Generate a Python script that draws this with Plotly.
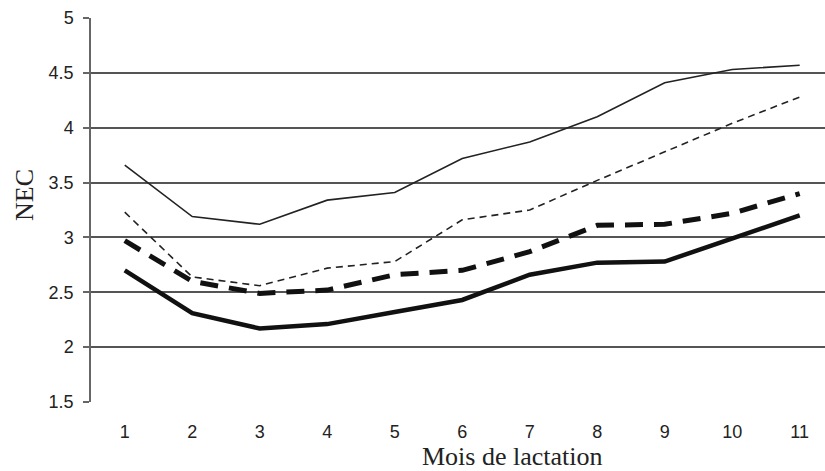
import plotly.graph_objects as go

months = [1, 2, 3, 4, 5, 6, 7, 8, 9, 10, 11]
serie_fine_pleine = [3.66, 3.19, 3.12, 3.34, 3.41, 3.72, 3.87, 4.10, 4.41, 4.53, 4.57]
serie_fine_tirets = [3.23, 2.64, 2.56, 2.72, 2.78, 3.16, 3.25, 3.52, 3.78, 4.04, 4.28]
serie_epaisse_tirets = [2.97, 2.60, 2.49, 2.52, 2.66, 2.70, 2.87, 3.11, 3.12, 3.22, 3.40]
serie_epaisse_pleine = [2.70, 2.31, 2.17, 2.21, 2.32, 2.43, 2.66, 2.77, 2.78, 2.99, 3.20]
y_ticks = [1.5, 2, 2.5, 3, 3.5, 4, 4.5, 5]
y_tick_labels = ["1.5", "2", "2.5", "3", "3.5", "4", "4.5", "5"]

fig = go.Figure()
fig.add_trace(go.Scatter(x=months, y=serie_fine_pleine, mode="lines",
                         line=dict(color="#222", width=1.6)))
fig.add_trace(go.Scatter(x=months, y=serie_fine_tirets, mode="lines",
                         line=dict(color="#222", width=1.6, dash="7px,5px")))
fig.add_trace(go.Scatter(x=months, y=serie_epaisse_tirets, mode="lines",
                         line=dict(color="#111", width=5, dash="18px,11px")))
fig.add_trace(go.Scatter(x=months, y=serie_epaisse_pleine, mode="lines",
                         line=dict(color="#111", width=4.5)))

fig.update_layout(
    width=825, height=471,
    margin=dict(l=91, r=0, t=18, b=69),
    paper_bgcolor="white", plot_bgcolor="white",
    showlegend=False,
    font=dict(family="Liberation Sans, Arial, sans-serif", size=18, color="#222"),
    xaxis=dict(
        range=[0.5, 11.375], tickmode="array", tickvals=months,
        ticktext=[str(m) for m in months],
        showgrid=False, zeroline=False, showline=False, ticks="",
        ticklabelstandoff=17,
    ),
    yaxis=dict(
        range=[1.5, 5], tickmode="array", tickvals=y_ticks, ticktext=y_tick_labels,
        showgrid=True, gridcolor="#555", gridwidth=1.5,
        zeroline=False, showline=True, linecolor="#666", linewidth=1.5,
        ticks="outside", ticklen=6, tickcolor="#666", tickwidth=1.5,
        ticklabelstandoff=6,
    ),
    annotations=[
        dict(text="NEC", xref="paper", yref="paper", x=-0.0913, y=0.539,
             xanchor="center", yanchor="middle", textangle=-90, showarrow=False,
             font=dict(family="Liberation Serif, Times New Roman, serif", size=26, color="#222")),
        dict(text="Mois de lactation", xref="paper", yref="paper", x=0.574, y=-0.141,
             xanchor="center", yanchor="middle", showarrow=False,
             font=dict(family="Liberation Serif, Times New Roman, serif", size=26, color="#222")),
    ],
)

fig.write_html("out.html", config={"displayModeBar": False},
               post_script="document.body.style.margin='0';")
